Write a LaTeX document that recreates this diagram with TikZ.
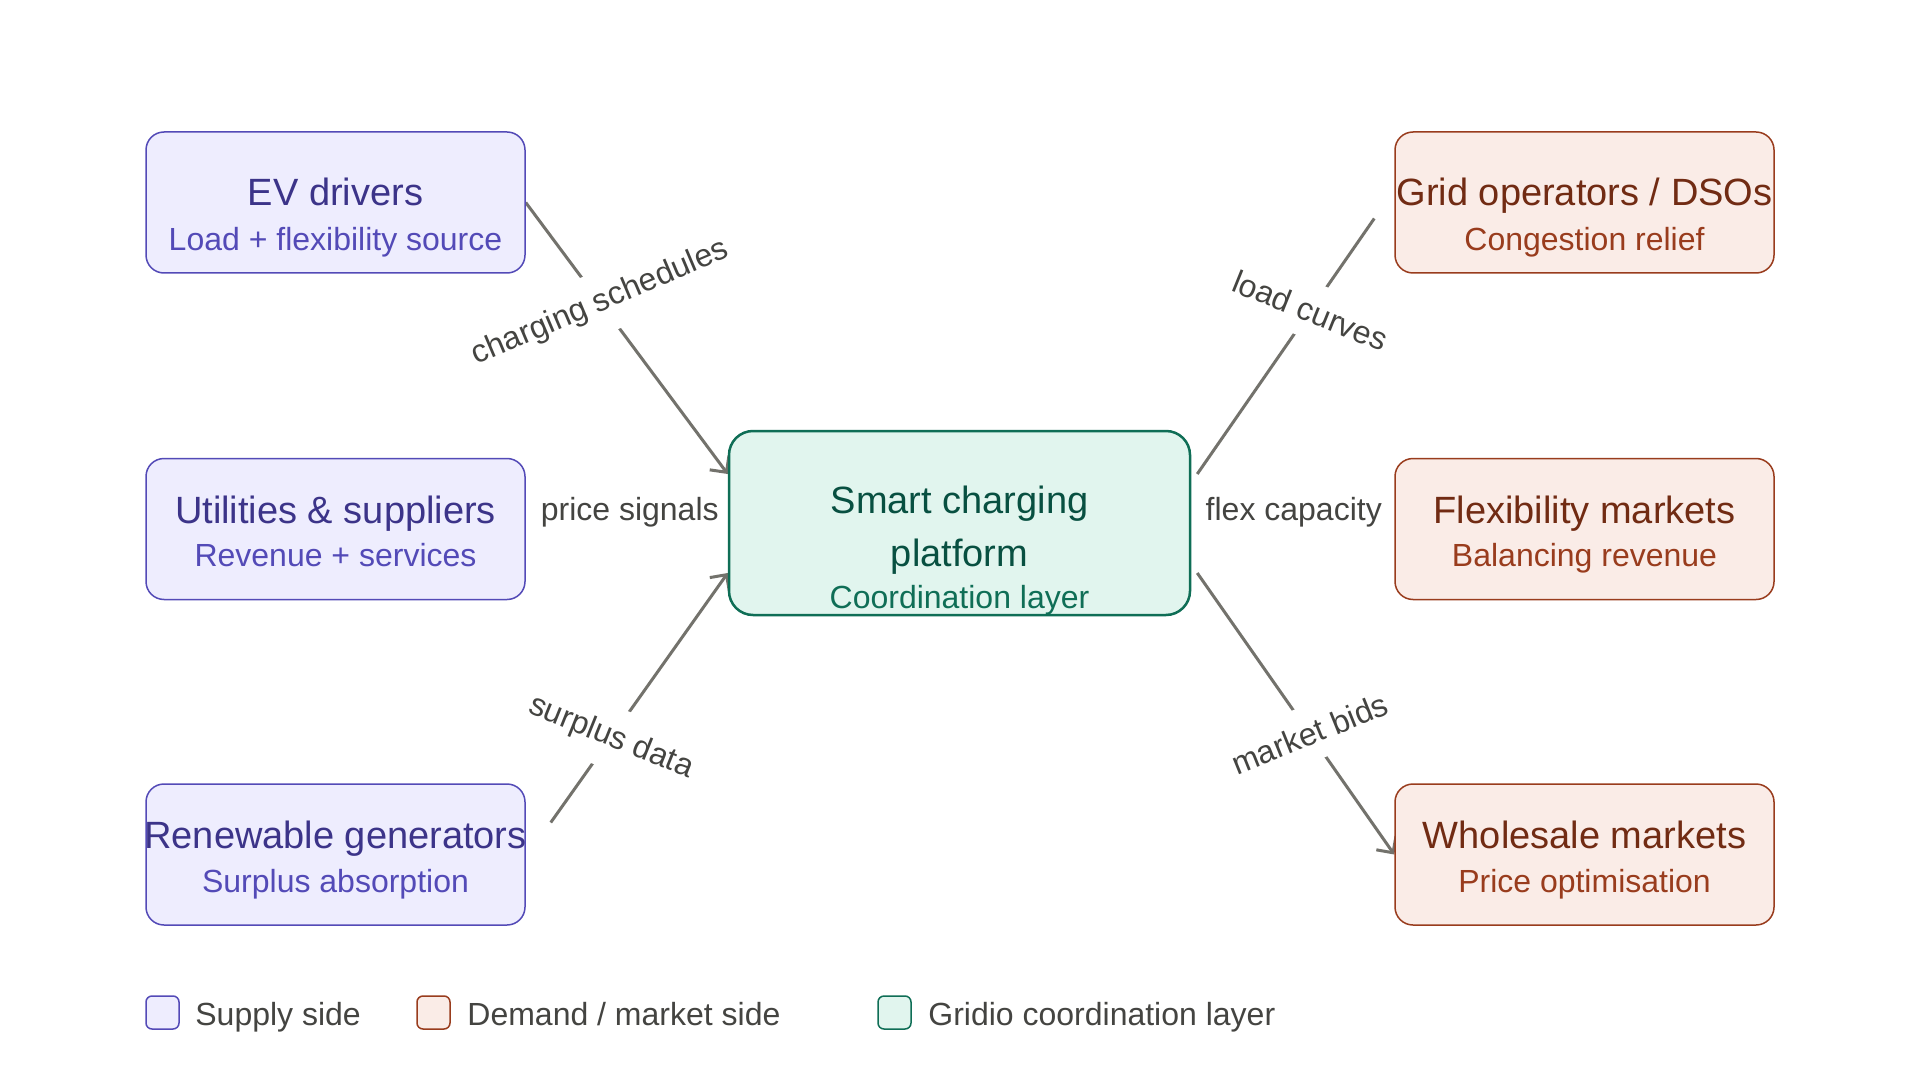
\documentclass[tikz,border=0pt]{standalone}
\usepackage{fontspec}
\setmainfont{Liberation Sans}
\usetikzlibrary{arrows.meta,backgrounds}
\definecolor{supfill}{HTML}{EEEDFE}
\definecolor{supdraw}{HTML}{534AB7}
\definecolor{suptitle}{HTML}{3C3489}
\definecolor{supsub}{HTML}{534AB7}
\definecolor{demfill}{HTML}{FAECE7}
\definecolor{demdraw}{HTML}{993C1D}
\definecolor{demtitle}{HTML}{712B13}
\definecolor{demsub}{HTML}{993C1D}
\definecolor{grnfill}{HTML}{E1F5EE}
\definecolor{grndraw}{HTML}{0F6E56}
\definecolor{grntitle}{HTML}{085041}
\definecolor{grnsub}{HTML}{0F6E56}
\definecolor{edgecol}{HTML}{73726C}
\definecolor{labcol}{HTML}{444441}
\begin{document}
\begin{tikzpicture}[x=0.5pt,y=-0.5pt,
 box/.style={rounded corners=9pt, minimum width=189.5pt, minimum height=70.5pt, line width=0.75pt, inner sep=0pt},
 supbox/.style={box, draw=supdraw, fill=supfill},
 dembox/.style={box, draw=demdraw, fill=demfill},
 ctrbox/.style={rounded corners=12pt, minimum width=230.5pt, minimum height=92pt, line width=1.25pt, draw=grndraw, fill=grnfill, inner sep=0pt},
 ttl/.style={anchor=base, inner sep=0pt, font=\fontsize{19}{22}\selectfont},
 subt/.style={anchor=base, inner sep=0pt, font=\fontsize{16}{19}\selectfont},
 flow/.style={draw=edgecol, line width=1.5pt},
 arr/.style={flow, -{Straight Barb[length=6pt,width=12pt]}},
 elab/.style={fill=white, text=labcol, inner xsep=6pt, inner ysep=8pt, font=\fontsize{16}{19}\selectfont},
 legsq/.style={rounded corners=3pt, minimum size=16.5pt, line width=0.75pt, inner sep=0pt},
 legtxt/.style={anchor=base west, inner sep=0pt, text=labcol, font=\fontsize{16}{19}\selectfont}
]
\useasboundingbox (0,0) rectangle (1920,1080);

% boxes
\node[supbox] (ev)   at (335.5,202.5) {};
\node[supbox] (util) at (335.5,529) {};
\node[supbox] (ren)  at (335.5,854.5) {};
\node[dembox] (grid) at (1584.5,202.5) {};
\node[dembox] (flex) at (1584.5,529) {};
\node[dembox] (whole) at (1584.5,854.5) {};
\node[ctrbox] (ctr) at (959.5,523) {};

% box texts
\node[ttl, text=suptitle] (evt) at (335.5,205.5) {EV drivers};
\node[subt, text=supsub] (evs) at (335.5,250.5) {Load + flexibility source};
\node[ttl, text=suptitle] (utilt) at (335.5,523) {Utilities \& suppliers};
\node[subt, text=supsub] (utils) at (335.5,566) {Revenue + services};
\node[ttl, text=suptitle] (rent) at (335.5,848.5) {Renewable generators};
\node[subt, text=supsub] (rens) at (335.5,892.5) {Surplus absorption};

\node[ttl, text=demtitle] (gridt) at (1584.5,205.5) {Grid operators / DSOs};
\node[subt, text=demsub] (grids) at (1584.5,250.5) {Congestion relief};
\node[ttl, text=demtitle] (flext) at (1584.5,523) {Flexibility markets};
\node[subt, text=demsub] (flexs) at (1584.5,566) {Balancing revenue};
\node[ttl, text=demtitle] (wholet) at (1584.5,848.5) {Wholesale markets};
\node[subt, text=demsub] (wholes) at (1584.5,892.5) {Price optimisation};

\node[ttl, text=grntitle] (ctrt1) at (959.5,513) {Smart charging};
\node[ttl, text=grntitle] (ctrt2) at (959.5,566) {platform};
\node[subt, text=grnsub] (ctrs) at (959.5,608) {Coordination layer};

% edges (behind boxes)
\begin{pgfonlayer}{background}
\fill[white] (0,0) rectangle (1920,1080);
\draw[arr] (ev.east) -- node[elab, rotate=23, pos=0.37] {charging schedules} ([yshift=24.5pt]ctr.west);
\draw[flow] ([xshift=3pt,yshift=24.5pt]ctr.east) -- node[elab, rotate=-22, pos=0.64] {load curves} ([xshift=-10pt,yshift=-8pt]grid.west);
\draw[flow] ([xshift=5pt]util.east) -- node[elab, yshift=7pt] {price signals} ([xshift=-2pt]ctr.west);
\draw[flow] ([xshift=4pt]ctr.east) -- node[elab, xshift=1pt, yshift=7pt] {flex capacity} ([xshift=-5pt]flex.west);
\draw[arr] ([xshift=12.5pt,yshift=16pt]ren.east) -- node[elab, rotate=-22, pos=0.34] {surplus data} ([yshift=-25pt]ctr.west);
\draw[arr] ([xshift=3pt,yshift=-25pt]ctr.east) -- node[elab, rotate=22, pos=0.57] {market bids} (whole.west);
\end{pgfonlayer}

% legend
\node[legsq, draw=supdraw, fill=supfill] (lg1) at (162.5,1012.5) {};
\node[legtxt] (lt1) at (195,1025.5) {Supply side};
\node[legsq, draw=demdraw, fill=demfill] (lg2) at (433.5,1012.5) {};
\node[legtxt] (lt2) at (467,1025.5) {Demand / market side};
\node[legsq, draw=grndraw, fill=grnfill] (lg3) at (894.5,1012.5) {};
\node[legtxt] (lt3) at (928,1025.5) {Gridio coordination layer};
\end{tikzpicture}
\end{document}
